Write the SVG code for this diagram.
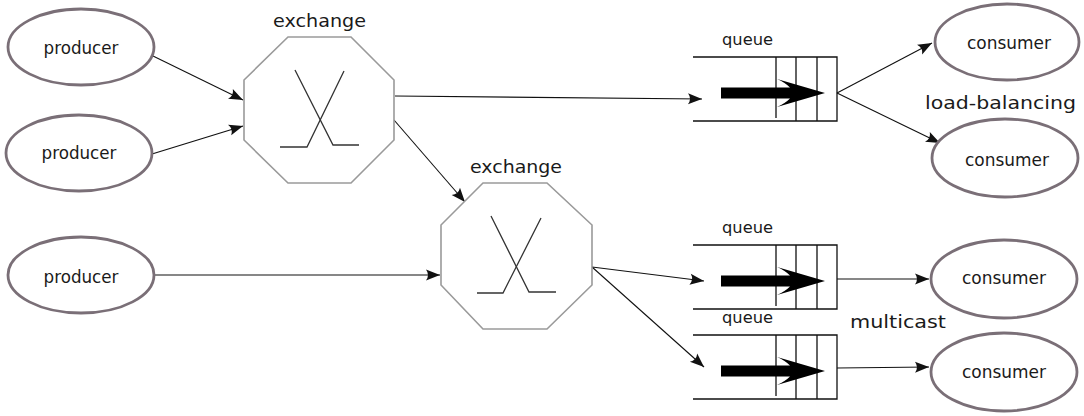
<svg xmlns="http://www.w3.org/2000/svg" width="1084" height="416" viewBox="0 0 1084 416">
  <style>
    .ell { fill: #ffffff; stroke: #7a6f77; stroke-width: 2.8; }
    .oct { fill: #ffffff; stroke: #9a9a9a; stroke-width: 1.6; }
    .x { fill: none; stroke: #333333; stroke-width: 1.3; }
    .q { fill: none; stroke: #111111; stroke-width: 1.3; }
    .big { fill: #000000; }
    .conn { fill: none; stroke: #111111; stroke-width: 1.1; marker-end: url(#ah); }
    text { font-family: "DejaVu Sans", "Liberation Sans", sans-serif; fill: #1a1a1a; }
    .lbl { font-size: 17px; text-anchor: middle; }
    .ex { font-size: 17px; }
    .ql { font-size: 16px; }
    .note { font-size: 18px; }
  </style>
  <defs>
    <marker id="ah" markerUnits="userSpaceOnUse" markerWidth="18" markerHeight="14" viewBox="-15 -7 16 14" refX="0" refY="0" orient="auto">
      <path d="M0,0 L-14,-5.5 Q-10,0 -14,5.5 Z" fill="#111111"/>
    </marker>
  </defs>
  <rect width="1084" height="416" fill="#ffffff"/>

  <g id="connectors">
    <line class="conn" x1="153" y1="56" x2="243" y2="100"/>
    <line class="conn" x1="152" y1="154" x2="243" y2="126"/>
    <line class="conn" x1="395" y1="96" x2="702" y2="99"/>
    <line class="conn" x1="394" y1="120" x2="465" y2="202"/>
    <line class="conn" x1="155" y1="275" x2="440" y2="275"/>
    <line class="conn" x1="592" y1="267" x2="704" y2="281"/>
    <line class="conn" x1="592" y1="267" x2="704" y2="367"/>
    <line class="conn" x1="837" y1="93" x2="932" y2="43"/>
    <line class="conn" x1="837" y1="93" x2="940" y2="143"/>
    <line class="conn" x1="837" y1="279" x2="929" y2="279"/>
    <line class="conn" x1="837" y1="368" x2="929" y2="367"/>
  </g>

  <g id="producer1">
    <ellipse class="ell" cx="81" cy="47" rx="73" ry="38"/>
    <text class="lbl" x="81" y="54" textLength="75" lengthAdjust="spacingAndGlyphs">producer</text>
  </g>
  <g id="producer2">
    <ellipse class="ell" cx="79" cy="153" rx="73" ry="38"/>
    <text class="lbl" x="79" y="159" textLength="75" lengthAdjust="spacingAndGlyphs">producer</text>
  </g>
  <g id="producer3">
    <ellipse class="ell" cx="81" cy="275" rx="73" ry="38"/>
    <text class="lbl" x="81" y="283" textLength="75" lengthAdjust="spacingAndGlyphs">producer</text>
  </g>

  <g id="exchange1">
    <polygon class="oct" points="288,37 351,37 394,80 394,140 351,183 288,183 244,140 244,80"/>
    <polyline class="x" points="295,70 333,145 359,145"/>
    <polyline class="x" points="344,71 307,147 280,147"/>
    <text class="ex" x="273" y="27" textLength="93" lengthAdjust="spacingAndGlyphs">exchange</text>
  </g>
  <g id="exchange2">
    <polygon class="oct" points="483,183 547,183 592,225 592,285 547,329 483,329 441,285 441,225"/>
    <polyline class="x" points="491,216 529,292 556,292"/>
    <polyline class="x" points="541,218 503,293 477,293"/>
    <text class="ex" x="470" y="173" textLength="92" lengthAdjust="spacingAndGlyphs">exchange</text>
  </g>

  <g id="queue1">
    <text class="ql" x="722" y="45" textLength="51" lengthAdjust="spacingAndGlyphs">queue</text>
    <path class="q" d="M693,57 H837 V121 H693 M776,57 V118 M796,57 V121 M817,57 V121"/>
    <path class="big" d="M721,87.5 L790,87.5 Q785,82.5 777,79 L825,93 L777,107 Q785,103.5 790,98.5 L721,98.5 Z"/>
  </g>
  <g id="queue2">
    <text class="ql" x="722" y="233" textLength="51" lengthAdjust="spacingAndGlyphs">queue</text>
    <path class="q" d="M693,245 H837 V309 H693 M776,245 V306 M796,245 V309 M817,245 V309"/>
    <path class="big" d="M721,275.5 L790,275.5 Q785,270.5 777,267 L825,281 L777,295 Q785,291.5 790,286.5 L721,286.5 Z"/>
  </g>
  <g id="queue3">
    <text class="ql" x="722" y="323" textLength="51" lengthAdjust="spacingAndGlyphs">queue</text>
    <path class="q" d="M693,335 H837 V399 H693 M776,335 V396 M796,335 V399 M817,335 V399"/>
    <path class="big" d="M721,365.5 L790,365.5 Q785,360.5 777,357 L825,371 L777,385 Q785,381.5 790,376.5 L721,376.5 Z"/>
  </g>

  <g id="consumer1">
    <ellipse class="ell" cx="1007" cy="42" rx="72" ry="38"/>
    <text class="lbl" x="1009" y="49" textLength="84" lengthAdjust="spacingAndGlyphs">consumer</text>
  </g>
  <g id="consumer2">
    <ellipse class="ell" cx="1005" cy="158" rx="73" ry="39"/>
    <text class="lbl" x="1007" y="166" textLength="84" lengthAdjust="spacingAndGlyphs">consumer</text>
  </g>
  <g id="consumer3">
    <ellipse class="ell" cx="1004" cy="279" rx="73" ry="39"/>
    <text class="lbl" x="1004" y="284" textLength="84" lengthAdjust="spacingAndGlyphs">consumer</text>
  </g>
  <g id="consumer4">
    <ellipse class="ell" cx="1004" cy="372" rx="73" ry="39"/>
    <text class="lbl" x="1004" y="378" textLength="84" lengthAdjust="spacingAndGlyphs">consumer</text>
  </g>

  <g id="labels">
    <text class="note" x="925" y="109" textLength="151" lengthAdjust="spacingAndGlyphs">load-balancing</text>
    <text class="note" x="850" y="328" textLength="96" lengthAdjust="spacingAndGlyphs">multicast</text>
  </g>
</svg>
